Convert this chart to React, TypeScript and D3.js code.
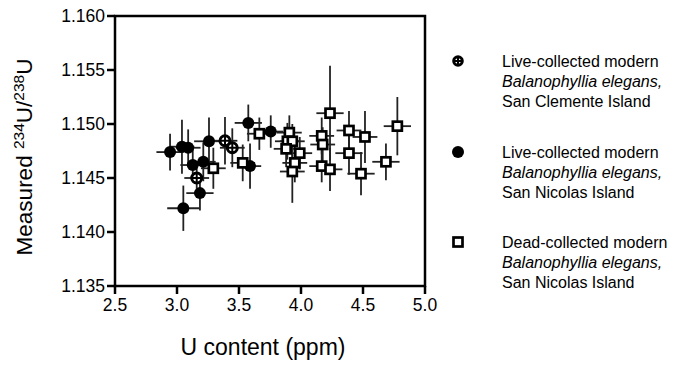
import React from "react";
import * as d3 from "d3";

const xTicks = [2.5, 3.0, 3.5, 4.0, 4.5, 5.0];
const yTicks = [1.135, 1.14, 1.145, 1.15, 1.155, 1.16];

// San Clemente Island, live-collected (crossed circle)
const scX = [3.159, 3.387, 3.446];
const scY = [1.145, 1.14845, 1.1478];
const scXErr = [0.1, 0.1, 0.1];
const scYErr = [0.001, 0.0022, 0.0018];

// San Nicolas Island, live-collected (filled circle)
const snX = [2.944, 3.04, 3.09, 3.127, 3.212, 3.258, 3.185, 3.051, 3.575, 3.589, 3.756];
const snY = [1.1474, 1.1479, 1.1478, 1.1462, 1.1465, 1.1484, 1.1436, 1.1422, 1.1501, 1.1461, 1.1493];
const snXErr = [0.11, 0.1, 0.1, 0.1, 0.1, 0.12, 0.11, 0.13, 0.11, 0.09, 0.1];
const snYErr = [0.0017, 0.0025, 0.0017, 0.0015, 0.0018, 0.0022, 0.0016, 0.0021, 0.0017, 0.0021, 0.0015];

// San Nicolas Island, dead-collected (open square)
const dnX = [3.293, 3.53, 3.664, 3.906, 3.89, 3.93, 3.88, 3.99, 3.95, 3.93, 4.234, 4.167, 4.175, 4.167, 4.234, 4.387, 4.387, 4.516, 4.484, 4.685, 4.777];
const dnY = [1.1459, 1.1464, 1.1491, 1.1492, 1.1484, 1.1484, 1.1477, 1.1473, 1.1464, 1.1456, 1.151, 1.1489, 1.1481, 1.1461, 1.1458, 1.1494, 1.1473, 1.1488, 1.1454, 1.1465, 1.1498];
const dnXErr = [0.1, 0.1, 0.1, 0.1, 0.1, 0.1, 0.1, 0.1, 0.1, 0.1, 0.11, 0.1, 0.1, 0.1, 0.1, 0.1, 0.11, 0.1, 0.11, 0.11, 0.11];
const dnYErr = [0.0019, 0.0017, 0.0015, 0.0016, 0.0017, 0.0016, 0.0017, 0.0015, 0.0018, 0.0029, 0.0044, 0.0017, 0.0016, 0.0015, 0.002, 0.0018, 0.002, 0.0024, 0.002, 0.0017, 0.0027];

const legendLines = [
  ["Live-collected modern", "Balanophyllia elegans,", "San Clemente Island"],
  ["Live-collected modern", "Balanophyllia elegans,", "San Nicolas Island"],
  ["Dead-collected modern", "Balanophyllia elegans,", "San Nicolas Island"],
];

const FONT = "'Liberation Sans', Arial, Helvetica, sans-serif";

type Pt = { x: number; y: number; xe: number; ye: number };
const zip = (xs: number[], ys: number[], xe: number[], ye: number[]): Pt[] =>
  xs.map((x, i) => ({ x, y: ys[i], xe: xe[i], ye: ye[i] }));

export default function App() {
  const W = 700, H = 368;
  const left = 115, right = 425, top = 16, bottom = 286;
  const x = d3.scaleLinear().domain([2.5, 5.0]).range([left, right]);
  const y = d3.scaleLinear().domain([1.135, 1.16]).range([bottom, top]);

  const sc = zip(scX, scY, scXErr, scYErr);
  const sn = zip(snX, snY, snXErr, snYErr);
  const dn = zip(dnX, dnY, dnXErr, dnYErr);
  const all = [...sn, ...sc, ...dn];

  const errColor = "#222";

  const crossed = (cx: number, cy: number, r: number, key: string) => (
    <g key={key}>
      <circle cx={cx} cy={cy} r={r} fill="#fff" stroke="#000" strokeWidth={3} />
      <line x1={cx - r} x2={cx + r} y1={cy} y2={cy} stroke="#000" strokeWidth={2} />
      <line x1={cx} x2={cx} y1={cy - r} y2={cy + r} stroke="#000" strokeWidth={2} />
    </g>
  );
  const square = (cx: number, cy: number, s: number, key: string) => (
    <rect key={key} x={cx - s / 2} y={cy - s / 2} width={s} height={s} fill="#fff" stroke="#000" strokeWidth={2.7} />
  );

  const legendY = [61, 152, 242];

  return (
    <svg width={W} height={H} style={{ display: "block", position: "absolute", left: 0, top: 0 }} fontFamily={FONT}>
      <rect width={W} height={H} fill="#fff" />
      {/* error bars */}
      <g stroke={errColor} strokeWidth={1.8}>
        {all.map((p, i) => (
          <g key={"e" + i}>
            <line x1={x(p.x - p.xe)} x2={x(p.x + p.xe)} y1={y(p.y)} y2={y(p.y)} />
            <line x1={x(p.x)} x2={x(p.x)} y1={y(p.y - p.ye)} y2={y(p.y + p.ye)} />
          </g>
        ))}
      </g>
      {/* markers */}
      {sn.map((p, i) => (
        <circle key={"sn" + i} cx={x(p.x)} cy={y(p.y)} r={6} fill="#000" />
      ))}
      {sc.map((p, i) => crossed(x(p.x), y(p.y), 5, "sc" + i))}
      {dn.map((p, i) => square(x(p.x), y(p.y), 9, "dn" + i))}

      {/* frame */}
      <rect x={left} y={top} width={right - left} height={bottom - top} fill="none" stroke="#000" strokeWidth={2.5} />
      {/* y ticks */}
      {yTicks.map((t) => (
        <g key={"yt" + t}>
          <line x1={left - 8} x2={left} y1={y(t)} y2={y(t)} stroke="#000" strokeWidth={2.5} />
          <text x={left - 10} y={y(t)} dy="0.36em" textAnchor="end" fontSize={17.5} fill="#000">
            {d3.format(".3f")(t)}
          </text>
        </g>
      ))}
      {/* x ticks */}
      {xTicks.map((t) => (
        <g key={"xt" + t}>
          <line x1={x(t)} x2={x(t)} y1={bottom} y2={bottom + 8} stroke="#000" strokeWidth={2.5} />
          <text x={x(t)} y={bottom + 25} textAnchor="middle" fontSize={17.5} fill="#000">
            {d3.format(".1f")(t)}
          </text>
        </g>
      ))}
      {/* axis titles */}
      <text x={263} y={355} textAnchor="middle" fontSize={23} fill="#000">
        U content (ppm)
      </text>
      <text transform={`translate(32,${157}) rotate(-90)`} textAnchor="middle" fontSize={22.5} fill="#000">
        Measured <tspan dy={-8} fontSize={15.5}>234</tspan>
        <tspan dy={8}>U/</tspan>
        <tspan dy={-8} fontSize={15.5}>238</tspan>
        <tspan dy={8}>U</tspan>
      </text>

      {/* legend */}
      {legendLines.map((lines, gi) => (
        <g key={"lg" + gi}>
          {gi === 0 && crossed(458, legendY[gi], 4.3, "lm0")}
          {gi === 1 && <circle cx={458} cy={legendY[gi]} r={6} fill="#000" />}
          {gi === 2 && square(458, legendY[gi], 9, "lm2")}
          {lines.map((ln, li) => (
            <text
              key={li}
              x={502}
              y={legendY[gi] + li * 20}
              dy="0.35em"
              fontSize={16}
              fontStyle={li === 1 ? "italic" : "normal"}
              fill="#000"
            >
              {ln}
            </text>
          ))}
        </g>
      ))}
    </svg>
  );
}
